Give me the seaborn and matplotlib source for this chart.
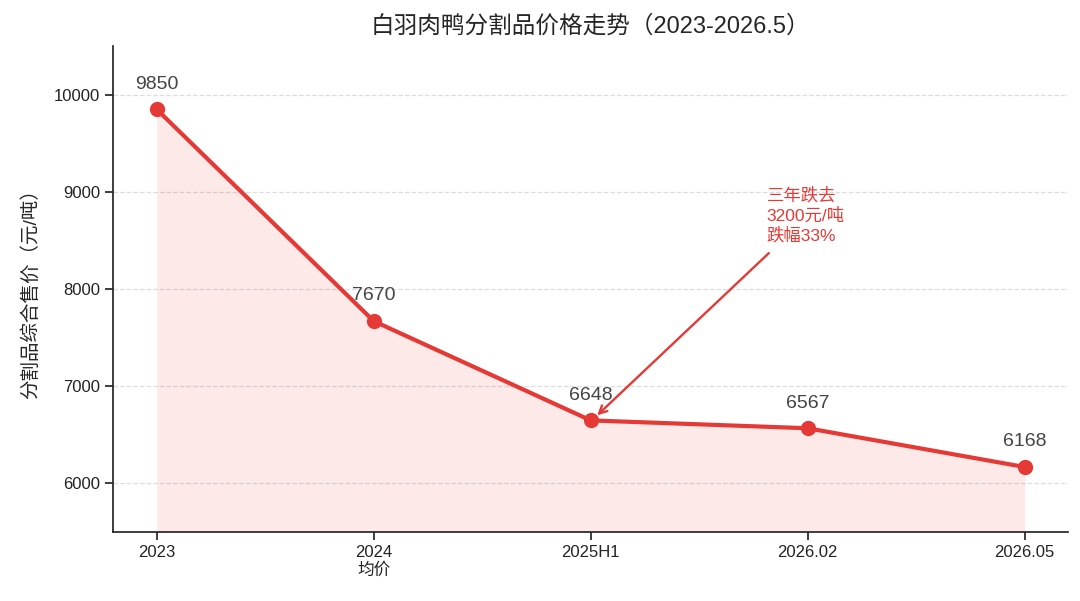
import matplotlib
matplotlib.use("Agg")
import matplotlib.pyplot as plt
import seaborn as sns
import pandas as pd

# dati
periodi = ['2023', '2024\n均价', '2025H1', '2026.02', '2026.05']
prezzi = [9850, 7670, 6648, 6567, 6168]

df = pd.DataFrame({'x': range(len(periodi)), 'prezzo': prezzi})

sns.set_theme(style="ticks")
plt.rcParams['font.family'] = ['Liberation Sans', 'Noto Sans CJK SC', 'DejaVu Sans']
plt.rcParams['axes.unicode_minus'] = False

rosso = '#e53935'

fig, ax = plt.subplots(figsize=(10.8, 6.01), dpi=100)
fig.subplots_adjust(left=0.105, right=0.989, top=0.923, bottom=0.115)

ax.fill_between(df['x'], df['prezzo'], 5500, color=rosso, alpha=0.11, linewidth=0)
sns.lineplot(data=df, x='x', y='prezzo', color=rosso, linewidth=3, marker='o',
             markersize=11, markeredgewidth=0, ax=ax)

for xi, yi in zip(df['x'], df['prezzo']):
    ax.annotate(str(yi), (xi, yi), xytext=(0, 12), textcoords='offset points',
                ha='center', va='bottom', fontsize=14, color='#444444')

ax.annotate('', xy=(2.02, 6680), xytext=(2.83, 8390),
            arrowprops=dict(arrowstyle='->', color=rosso, lw=1.7, mutation_scale=14))
ax.text(2.81, 8470, '三年跌去\n3200元/吨\n跌幅33%', color=rosso, fontsize=12.5,
        ha='left', va='bottom', linespacing=1.25)

ax.set_xlim(-0.2, 4.2)
ax.set_ylim(5500, 10500)
ax.set_xticks(range(len(periodi)))
ax.set_xticklabels(periodi, fontsize=12, color='#222222')
ax.set_yticks([6000, 7000, 8000, 9000, 10000])
ax.tick_params(axis='y', labelsize=12, labelcolor='#222222')
ax.yaxis.grid(True, linestyle='--', color='#dddddd', linewidth=0.9)
ax.set_axisbelow(True)
ax.set_xlabel('')
ax.set_ylabel('分割品综合售价（元/吨）', fontsize=14, labelpad=10)
ax.set_title('白羽肉鸭分割品价格走势（2023-2026.5）', fontsize=17, pad=10)
sns.despine(ax=ax)

plt.savefig('out.png', dpi=100)
